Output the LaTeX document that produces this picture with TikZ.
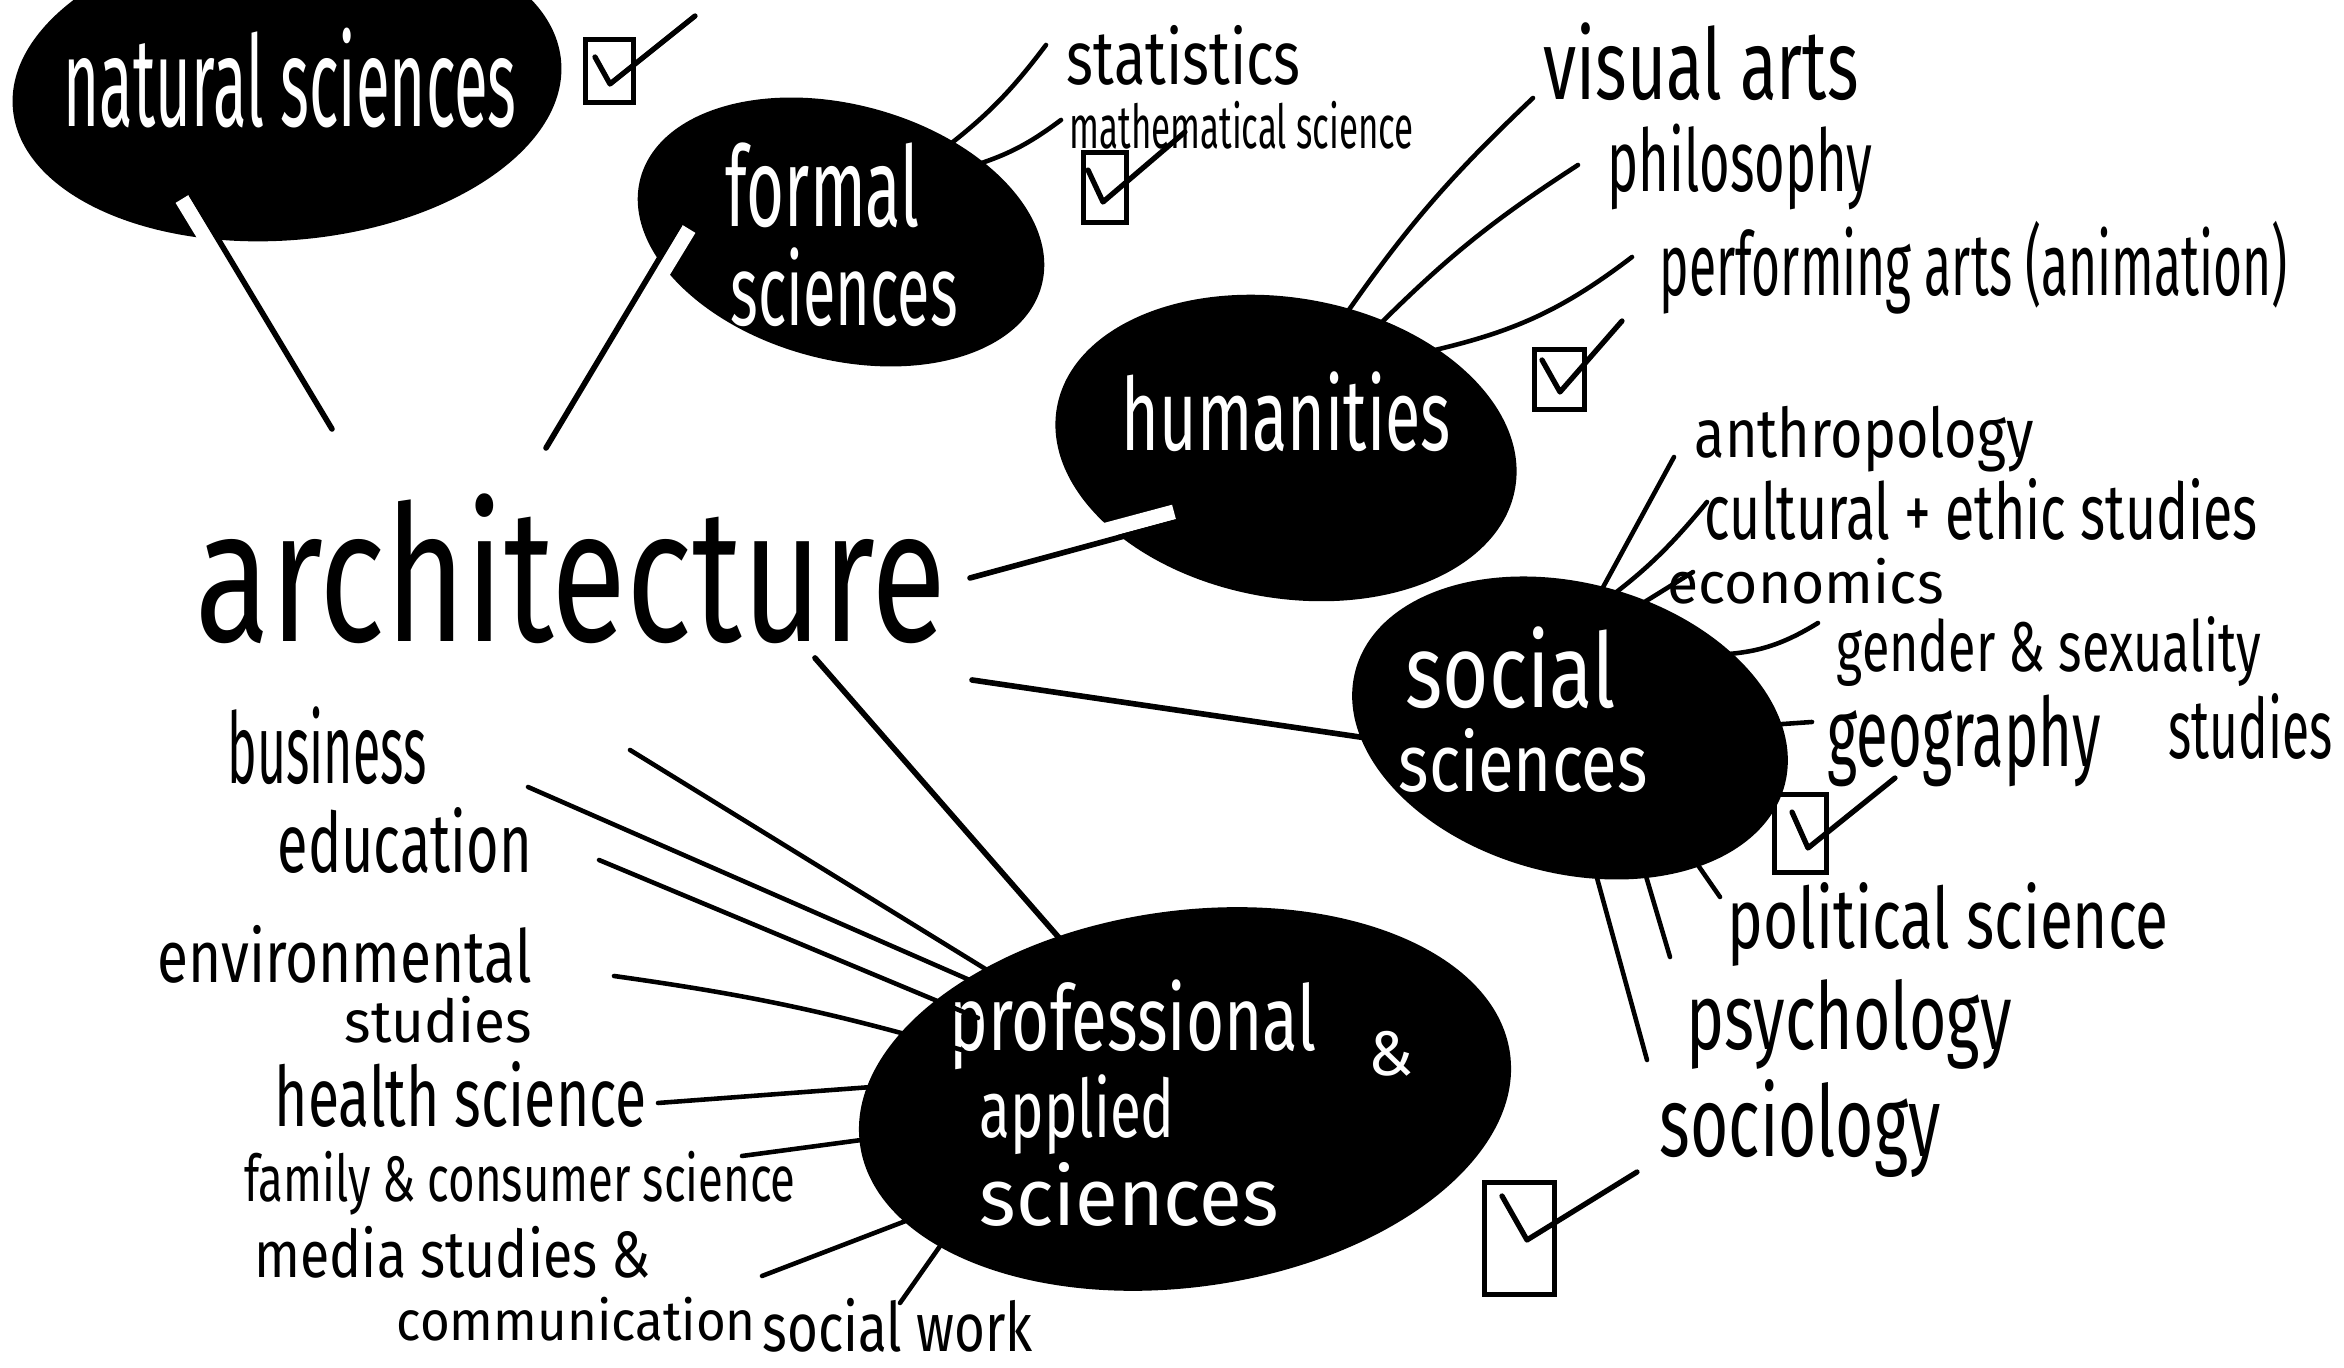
\documentclass[tikz,border=0pt]{standalone}
\usepackage{fontspec}
\setmainfont{Fira Sans}
\usepackage{graphicx}
\usetikzlibrary{shapes.geometric}
\newlength\pxu
\setlength\pxu{0.01cm}
\newcommand{\hw}[3]{\resizebox*{#1\pxu}{#2\pxu}{#3}}
\tikzset{
  blob/.style={ellipse, fill=black, draw=none, inner sep=0pt},
  lbl/.style={inner sep=0pt, anchor=north west, font=\fontsize{20}{24}\selectfont},
  wlbl/.style={lbl, text=white},
  conn/.style={line width=1.6pt, line cap=round},
  sub/.style={line width=1.3pt, line cap=round},
  band/.style={white, line width=0.15cm},
  cbox/.style={draw, line width=1.4pt, inner sep=0pt, anchor=north west},
  tick/.style={line width=1.5pt, line cap=round, line join=round}
}
\begin{document}
\begin{tikzpicture}[x=0.01cm,y=-0.01cm]
\useasboundingbox (0,0) rectangle (2344,1368);
\clip (0,0) rectangle (2344,1368);
\fill[white] (0,0) rectangle (2344,1368);

% blobs
\node[blob, minimum width=5.5cm, minimum height=3.1cm, rotate=5] (ns) at (287,85) {};
\node[blob, minimum width=4.15cm, minimum height=2.55cm, rotate=-15] (fs) at (841,232) {};
\node[blob, minimum width=4.65cm, minimum height=3.0cm, rotate=-10] (hu) at (1286,448) {};
\node[blob, minimum width=4.44cm, minimum height=2.9cm, rotate=-15] (ss) at (1570,728) {};
\node[blob, minimum width=6.56cm, minimum height=3.76cm, rotate=8] (pa) at (1185,1099) {};

% centre word
\node[lbl] (arch) at (195,493) {\hw{750}{150}{architecture}};

% main connectors
\coordinate (a-ns) at (332,429); \coordinate (e-ns) at (191,194);
\coordinate (a-fs) at (546,448); \coordinate (e-fs) at (680,224);
\coordinate (a-hu) at (970,578); \coordinate (e-hu) at (1176,522);
\coordinate (a-ss) at (972,680); \coordinate (e-ss) at (1380,740);
\coordinate (a-pa) at (815,658); \coordinate (e-pa) at (1115,1002);
\draw[band] (213,250) -- (182,199);
\draw[band] (661,275) -- (689,229);
\draw[band] (1088,535) -- (1174,512);
\draw[conn] (a-ns) -- (e-ns);
\draw[conn] (a-fs) -- (e-fs);
\draw[conn] (a-hu) -- (e-hu);
\draw[conn] (a-ss) -- (e-ss);
\draw[conn] (a-pa) -- (e-pa);

% white labels
\node[wlbl] (t-ns) at (63,27) {\hw{453}{100}{natural sciences}};
\node[wlbl] (t-fs1) at (725,142) {\hw{194}{85}{formal}};
\node[wlbl] (t-fs2) at (730,247) {\hw{227}{79}{sciences}};
\node[wlbl] (t-hu) at (1121,371) {\hw{329}{80}{humanities}};
\node[wlbl] (t-ss1) at (1405,626) {\hw{210}{82}{social}};
\node[wlbl] (t-ss2) at (1398,728) {\hw{249}{64}{sciences}};
\node[wlbl] (t-pa1) at (949,979) {\hw{367}{90}{professional}};
\node[wlbl] (t-pa1b) at (1368,1031) {\hw{45}{45}{\&}};
\node[wlbl] (t-pa2) at (979,1074) {\hw{195}{80}{applied}};
\node[wlbl] (t-pa3) at (979,1162) {\hw{299}{64}{sciences}};

% black labels
\node[lbl] (stat) at (1066,25) {\hw{234}{60}{statistics}};
\node[lbl] (math) at (1069,101) {\hw{344}{48}{mathematical science}};
\node[lbl] (vis) at (1543,22) {\hw{315}{78}{visual arts}};
\node[lbl] (phil) at (1607,123) {\hw{265}{86}{philosophy}};
\node[lbl] (perf) at (1659,221) {\hw{628}{93}{performing arts (animation)}};
\node[lbl] (anth) at (1694,405) {\hw{339}{66}{anthropology}};
\node[lbl] (cult) at (1704,478) {\hw{553}{62}{cultural + ethic studies}};
\node[lbl] (econ) at (1667,558) {\hw{276}{46}{economics}};
\node[lbl] (gend) at (1836,616) {\hw{424}{70}{gender \& sexuality}};
\node[lbl] (gend2) at (2168,693) {\hw{164}{66}{studies}};
\node[lbl] (geo) at (1827,694) {\hw{273}{92}{geography}};
\node[lbl] (pol) at (1727,882) {\hw{441}{84}{political science}};
\node[lbl] (psy) at (1686,979) {\hw{325}{90}{psychology}};
\node[lbl] (soc) at (1659,1079) {\hw{281}{98}{sociology}};
\node[lbl] (bus) at (227,706) {\hw{199}{78}{business}};
\node[lbl] (edu) at (277,807) {\hw{254}{66}{education}};
\node[lbl] (env) at (157,925) {\hw{374}{58}{environmental}};
\node[lbl] (env2) at (344,996) {\hw{187}{47}{studies}};
\node[lbl] (hea) at (274,1061) {\hw{372}{66}{health science}};
\node[lbl] (fam) at (244,1151) {\hw{551}{64}{family \& consumer science}};
\node[lbl] (med) at (254,1226) {\hw{396}{52}{media studies \&}};
\node[lbl] (med2) at (396,1296) {\hw{359}{44}{communication}};
\node[lbl] (sw) at (762,1298) {\hw{270}{54}{social work}};

% sub-branch connectors
\draw[sub] (936,155) to[bend right=8] (1046,45);
\draw[sub] (966,168) to[bend right=10] (1061,120);
\draw[sub] (1337,327) to[bend left=6] (1533,98);
\draw[sub] (1374,330) to[bend left=6] (1578,165);
\draw[sub] (1435,350) to[bend right=12] (1632,257);
\draw[sub] (1583,624) -- (1674,457);
\draw[sub] (1582,617) to[bend right=8] (1707,502);
\draw[sub] (1622,616) -- (1693,572);
\draw[sub] (1710,655) to[bend right=15] (1818,623);
\draw[sub] (1740,727) -- (1812,722);
\draw[sub] (1666,819) -- (1720,897);
\draw[sub] (1632,829) -- (1670,957);
\draw[sub] (1586,838) -- (1647,1060);
\draw[sub] (630,750) -- (1013,986);
\draw[sub] (528,787) -- (997,992);
\draw[sub] (599,860) -- (978,1018);
\draw[sub] (614,976) to[bend left=4] (962,1050);
\draw[sub] (658,1103) -- (952,1081);
\draw[sub] (742,1156) -- (951,1128);
\draw[sub] (762,1276) -- (971,1196);
\draw[sub] (900,1303) -- (983,1185);

% check boxes
\node[cbox, minimum width=0.48cm, minimum height=0.63cm] (b1) at (583,37) {};
\draw[tick] (595,57) -- (610,84) -- (695,16);
\node[cbox, minimum width=0.43cm, minimum height=0.70cm] (b2) at (1081,150) {};
\draw[tick] (1088,170) -- (1103,202) -- (1185,132);
\node[cbox, minimum width=0.50cm, minimum height=0.60cm] (b3) at (1532,347) {};
\draw[tick] (1542,360) -- (1560,392) -- (1622,321);
\node[cbox, minimum width=0.52cm, minimum height=0.78cm] (b4) at (1772,792) {};
\draw[tick] (1792,812) -- (1808,848) -- (1895,778);
\node[cbox, minimum width=0.70cm, minimum height=1.12cm] (b5) at (1482,1180) {};
\draw[tick] (1502,1196) -- (1527,1240) -- (1637,1172);
\end{tikzpicture}
\end{document}
